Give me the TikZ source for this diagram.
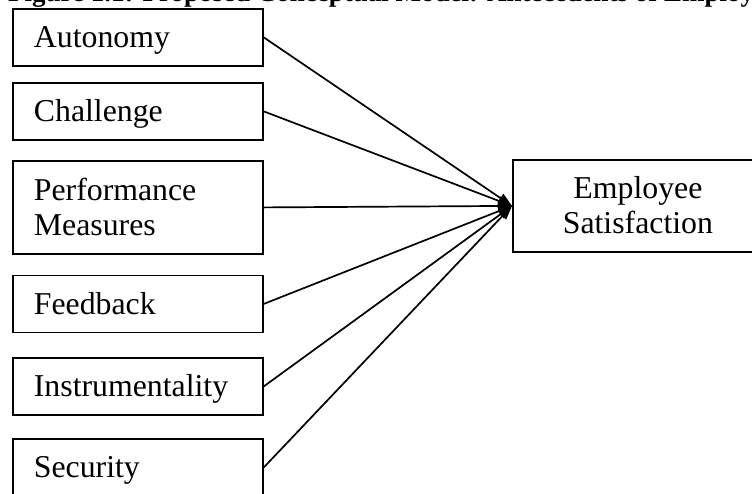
\documentclass[tikz,border=0pt]{standalone}
\usepackage{fontspec}
\setmainfont{Liberation Serif}
\usetikzlibrary{arrows.meta}
\begin{document}
\begin{tikzpicture}[x=1pt,y=-1pt,
  box/.style={draw, line width=1.8pt, anchor=north west, minimum width=250pt,
    minimum height=57pt, inner xsep=21pt, inner ysep=0pt, text width=208pt,
    align=left, font=\fontsize{31.8}{35}\selectfont, text height=27pt, text depth=6.6pt},
  twoline/.style={box, minimum height=93pt, text depth=41.6pt},
  arr/.style={line width=1.7pt, -{Triangle[length=14pt,width=10pt]}},
  titletext/.style={anchor=base west, inner sep=0pt, font=\bfseries\fontsize{27}{30}\selectfont}]
\useasboundingbox (0,0) rectangle (752,493);
\clip (0,0) rectangle (752,493);
\node[titletext] (title) at (8,1) {Figure 1.1: Proposed Conceptual Model: Antecedents of Employee Satisfaction};
\node[box] (aut) at (12,8) {Autonomy};
\node[box] (cha) at (12,82) {Challenge};
\node[twoline] (per) at (12,160) {Performance\\Measures};
\node[box] (fee) at (12,274.5) {Feedback};
\node[box] (ins) at (12,357) {Instrumentality};
\node[box] (sec) at (12,438) {Security};
\node[twoline, align=center, minimum height=92pt] (emp) at (512,159) {Employee\\Satisfaction};
\foreach \n in {aut,cha,per,fee,ins,sec}
  \draw[arr] (\n.east) -- (emp.west);
\end{tikzpicture}
\end{document}
